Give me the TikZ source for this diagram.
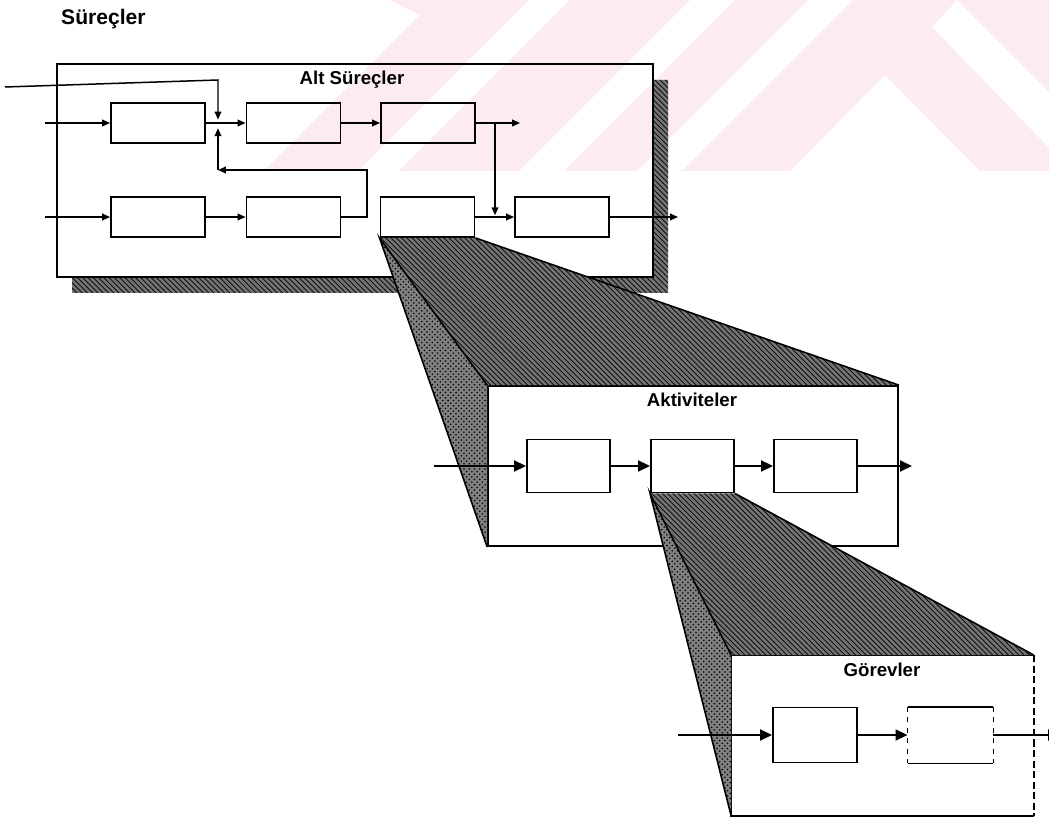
\documentclass[tikz,border=0pt]{standalone}
\usepackage{fontspec}
\setmainfont{Liberation Sans}
\usepackage{tikz}
\usetikzlibrary{arrows.meta,positioning,patterns,calc}
\definecolor{pembe}{RGB}{252,235,239}
\tikzset{
  blok/.style={draw,line width=1.1pt,inner sep=0pt,minimum width=18.8mm,minimum height=8mm},
  ablok/.style={draw,line width=1.1pt,inner sep=0pt,minimum width=16.6mm,minimum height=10.6mm},
  gblok/.style={ablok,minimum width=16.8mm,minimum height=11mm},
  cerceve/.style={draw,line width=1pt,inner sep=0pt},
  baslik/.style={font=\bfseries\fontsize{10.6}{12}\selectfont,anchor=base},
  % oklar
  ok/.style={line width=0.85pt,-{Triangle[length=4.5pt,width=3.8pt]}},
  okk/.style={line width=1.2pt,-{Triangle[length=6.8pt,width=6.2pt]}},
  % golge ve izdusum
  tarama/.style={fill=black!55,postaction={pattern=north west lines,pattern color=black}},
  noktali/.style={fill=black!50,postaction={pattern=crosshatch dots,pattern color=black}},
  kenar/.style={line width=0.9pt},
}

\begin{document}
\begin{tikzpicture}[x=0.2mm,y=-0.2mm]
\useasboundingbox (0,0) rectangle (1049,817);
\clip (0,0) rectangle (1049,817);

%% ===== filigran =====
\fill[pembe] (390,0) -- (529,0) -- (358,171) -- (264,171) -- (420,15) -- cycle;
\fill[pembe] (570,0) -- (690,0) -- (519,171) -- (399,171) -- cycle;
\fill[pembe] (735,0) -- (808,0) -- (637,171) -- (564,171) -- cycle;
\fill[pembe] (853,0) -- (957,0) -- (932,27) -- (1049,148) -- (1049,171) -- (980,171)
  -- (885,75) -- (790,171) -- (682,171) -- cycle;
\fill[pembe] (957,0) -- (1049,0) -- (1049,92) -- cycle;

\node[font=\bfseries\fontsize{12}{14}\selectfont,anchor=base west] (surec) at (55,25) {Süreçler};

%% ===== Alt Süreçler =====
\def\yT{123} \def\yU{217}
\fill[tarama] (72,277) -- (653,277) -- (653,80) -- (668,80) -- (668,293) -- (72,293) -- cycle;
\node[cerceve,minimum width=119.2mm,minimum height=42.6mm] (alt) at (355,170.5) {};
\node[baslik] (altlbl) at (352,85) {Alt Süreçler};

\node[blok] (t1) at (158,\yT) {};
\node[blok] (t2) at (293.5,\yT) {};
\node[blok] (t3) at (428,\yT) {};
\node[blok] (u1) at (158,\yU) {};
\node[blok] (u2) at (293.5,\yU) {};
\node[blok] (u3) at (427.5,\yU) {};
\node[blok] (u4) at (562,\yU) {};

\coordinate (gL) at (5,87);
\coordinate (kose) at (218,80);
\coordinate (kav) at (218,\yT);
\coordinate (gT) at (45,\yT);
\coordinate (gU) at (45,\yU);
\coordinate (cT) at (520,\yT);
\coordinate (cU) at (678,\yU);
\coordinate (ayr) at (495,\yT);
\coordinate (ayrA) at (495,\yU);
\coordinate (geriK) at (367,170);
\coordinate (geri) at (218,170);

\draw[ok] (gT) -- (t1);
\draw[ok,shorten >=2pt] (gL) -- (kose) -- (kav);
\draw[ok] (t1) -- (t2);
\draw[ok] (t2) -- (t3);
\draw[ok] (t3) -- (cT);
\draw[ok,shorten >=1pt] (ayr) -- (ayrA);
\draw[ok] (gU) -- (u1);
\draw[ok] (u1) -- (u2);
\draw[ok] (u2.east) -| (geriK) -- (geri);
\draw[ok,shorten >=3pt] (geri) -- (kav);
\draw[ok] (u3) -- (u4);
\draw[ok] (u4) -- (cU);

%% ===== Aktiviteler =====
\def\yA{466}
\node[cerceve,minimum width=82mm,minimum height=32mm] (akt) at (693,466) {};
\fill[tarama] (u3.south west) -- (u3.south east) -- (akt.north east) -- (akt.north west) -- cycle;
\fill[noktali] (u3.south west) -- (akt.north west) -- (akt.south west) -- cycle;
\draw[kenar] (akt.south west) -- (u3.south west) -- (akt.north west);
\draw[kenar] (u3.south east) -- (akt.north east);
\node[baslik] (aktlbl) at (692,407) {Aktiviteler};

\node[ablok] (a1) at (568.5,\yA) {};
\node[ablok] (a2) at (692.5,\yA) {};
\node[ablok] (a3) at (815.5,\yA) {};
\coordinate (gA) at (434,\yA);
\coordinate (cA) at (912,\yA);
\draw[okk] (gA) -- (a1);
\draw[okk] (a1) -- (a2);
\draw[okk] (a2) -- (a3);
\draw[okk] (a3) -- (cA);

%% ===== Görevler =====
\def\yG{735}
\node[cerceve,draw=none,minimum width=60.2mm,minimum height=31.8mm] (gor) at (882.5,735.5) {};
\draw[line width=1pt] (gor.south east) -- (gor.south west) -- (gor.north west) -- (gor.north east);
\draw[line width=1pt,dash pattern=on 4pt off 2pt] (gor.north east) -- (gor.south east);
\fill[tarama] (a2.south west) -- (a2.south east) -- (gor.north east) -- (gor.north west) -- cycle;
\fill[noktali] (a2.south west) -- (gor.north west) -- (gor.south west) -- cycle;
\draw[kenar] (gor.south west) -- (a2.south west) -- (gor.north west);
\draw[kenar] (a2.south east) -- (gor.north east);
\node[baslik] (gorlbl) at (882,676) {Görevler};

\node[gblok] (g1) at (815,\yG) {};
\node[gblok,draw=none] (g2) at (950.5,\yG) {};
\draw[line width=1.1pt] (g2.north west) -- (g2.north east) (g2.south west) -- (g2.south east);
\draw[line width=0.6pt,dash pattern=on 3pt off 3pt] (g2.north west) -- (g2.south west) (g2.north east) -- (g2.south east);
\coordinate (gG) at (678,\yG);
\coordinate (cG) at (1060,\yG);
\draw[okk] (gG) -- (g1);
\draw[okk] (g1) -- (g2);
\draw[okk] (g2) -- (cG);
\end{tikzpicture}
\end{document}
